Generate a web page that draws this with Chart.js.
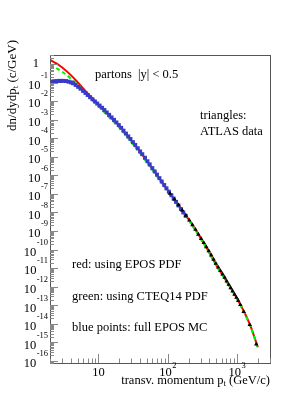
<!DOCTYPE html>
<html>
<head>
<meta charset="utf-8">
<script src="https://cdn.jsdelivr.net/npm/chart.js@4/dist/chart.umd.min.js"></script>
<style>
  html, body { margin: 0; padding: 0; background: #fff; }
  canvas { display: block; }
</style>
</head>
<body>
<canvas id="spectrumChart" width="289" height="410"></canvas>
<script>
// pt values (GeV/c) and log10 of dn/dydpt
const ptCurve = [2, 2.5, 3, 4, 5, 7, 10, 15, 20, 30, 40, 50, 70, 100, 150, 200, 300, 400, 500, 700, 1000, 1300, 1600, 2000];
const redLog = [0.22, 0.02, -0.19, -0.6, -0.98, -1.58, -2.18, -2.87, -3.33, -4.14, -4.74, -5.22, -5.98, -6.79, -7.71, -8.36, -9.38, -10.16, -10.82, -11.68, -12.63, -13.43, -14.2, -15.26];
const greenLog = [-0.05, -0.24, -0.42, -0.78, -1.12, -1.70, -2.28, -2.95, -3.42, -4.22, -4.82, -5.29, -6.05, -6.86, -7.77, -8.41, -9.42, -10.2, -10.85, -11.7, -12.65, -13.45, -14.22, -15.3];

const ptBlue = [2.1, 2.3, 2.5, 2.7, 2.9, 3.1, 3.4, 3.7, 4.0, 4.3, 4.7, 5.1, 5.5, 6.0, 6.5, 7.0, 7.6, 8.2, 8.9, 9.6,
  10.4, 11.3, 12.2, 13.2, 14.3, 15.5, 16.8, 18.2, 19.7, 21.3, 23, 25, 27, 29, 31.5, 34, 37, 40, 43, 47,
  51, 55, 60, 65, 70, 76, 82, 89, 96, 104, 113, 122, 132, 143, 155, 168, 182];
const blueLog = [-0.95, -0.93, -0.92, -0.91, -0.91, -0.91, -0.92, -0.95, -0.99, -1.04, -1.13, -1.23, -1.33, -1.45, -1.56, -1.67, -1.79, -1.9, -2.02, -2.13,
  -2.24, -2.36, -2.48, -2.61, -2.74, -2.88, -3.01, -3.15, -3.29, -3.44, -3.59, -3.75, -3.9, -4.04, -4.21, -4.36, -4.54, -4.71, -4.86, -5.05,
  -5.24, -5.41, -5.61, -5.79, -5.96, -6.15, -6.33, -6.52, -6.7, -6.88, -7.07, -7.25, -7.43, -7.62, -7.81, -8.0, -8.18];

const ptAtlas = [108, 125, 143, 162, 183, 205, 228, 252, 277, 304, 332, 361, 392, 425, 460, 497, 536, 577, 620, 665,
  712, 761, 812, 866, 923, 982, 1044, 1120, 1250, 1530, 1900];
const atlasLog = [-6.98, -7.29, -7.6, -7.88, -8.16, -8.42, -8.67, -8.92, -9.18, -9.41, -9.63, -9.85, -10.07, -10.3, -10.53, -10.75, -10.95, -11.14, -11.32, -11.5,
  -11.7, -11.88, -12.06, -12.24, -12.41, -12.58, -12.75, -12.97, -13.35, -14.05, -15.1];

// axis labels (powers of ten)
const yLabelExps = [0, -1, -2, -3, -4, -5, -6, -7, -8, -9, -10, -11, -12, -13, -14, -15, -16];
const xLabelExps = [1, 2, 3];

const toPoints = (xs, logs) => xs.map((x, i) => ({ x: x, y: Math.pow(10, logs[i]) }));

const serif = '"Liberation Serif", "DejaVu Serif", serif';

function drawSubText(ctx, parts, x, y, size) {
    // parts: [text, isSub]
    let cx = x;
    parts.forEach(p => {
        ctx.font = (p[1] ? size * 0.7 : size) + 'px ' + serif;
        ctx.fillText(p[0], cx, p[1] ? y + 3 : y);
        cx += ctx.measureText(p[0]).width;
    });
    return cx;
}
function subWidth(ctx, parts, size) {
    let w = 0;
    parts.forEach(p => {
        ctx.font = (p[1] ? size * 0.7 : size) + 'px ' + serif;
        w += ctx.measureText(p[0]).width;
    });
    return w;
}

const rootFrame = {
    id: 'rootFrame',
    afterDraw(chart) {
        const { ctx, chartArea: a, scales: { x, y } } = chart;
        ctx.save();
        ctx.strokeStyle = '#555';
        ctx.lineWidth = 1;
        ctx.strokeRect(a.left + 0.5, a.top + 0.5, a.right - a.left, a.bottom - a.top);

        // y ticks
        ctx.strokeStyle = '#888';
        ctx.beginPath();
        for (let e = -17; e <= 0; e++) {
            for (let m = 1; m < 10; m++) {
                const v = m * Math.pow(10, e);
                if (v < y.min || v > y.max) continue;
                const py = Math.round(y.getPixelForValue(v)) + 0.5;
                const len = m === 1 ? 8 : 4;
                ctx.moveTo(a.left, py);
                ctx.lineTo(a.left + len, py);
            }
        }
        // x ticks
        for (let e = 0; e <= 3; e++) {
            for (let m = 1; m < 10; m++) {
                const v = m * Math.pow(10, e);
                if (v < x.min || v > x.max) continue;
                const px = Math.round(x.getPixelForValue(v)) + 0.5;
                const len = m === 1 ? 9 : 4.5;
                ctx.moveTo(px, a.bottom);
                ctx.lineTo(px, a.bottom - len);
            }
        }
        ctx.stroke();

        ctx.fillStyle = '#000';
        ctx.textBaseline = 'middle';

        // y labels
        yLabelExps.forEach(e => {
            const py = y.getPixelForValue(Math.pow(10, e));
            if (e === 0) {
                ctx.font = '12.5px ' + serif;
                ctx.textAlign = 'right';
                ctx.fillText('1', 39, py);
                return;
            }
            ctx.font = '8.5px ' + serif;
            ctx.textAlign = 'right';
            const ex = String(e);
            const ew = ctx.measureText(ex).width;
            ctx.fillText(ex, 48, py - 7);
            ctx.font = '12.5px ' + serif;
            ctx.fillText('10', 48 - ew - 0.5, py + 3);
        });

        // x labels
        xLabelExps.forEach(e => {
            const px = x.getPixelForValue(Math.pow(10, e));
            ctx.font = '12.5px ' + serif;
            const w1 = ctx.measureText('10').width;
            if (e === 1) {
                ctx.textAlign = 'center';
                ctx.fillText('10', px, 373);
                return;
            }
            ctx.font = '8.5px ' + serif;
            const ex = String(e);
            const w2 = ctx.measureText(ex).width;
            const start = px - (w1 + w2) / 2;
            ctx.textAlign = 'left';
            ctx.fillText(ex, start + w1 + 0.5, 366);
            ctx.font = '12.5px ' + serif;
            ctx.fillText('10', start, 373);
        });

        // axis titles
        ctx.textAlign = 'left';
        const xTitle = [['transv. momentum p', false], ['t', true], [' (GeV/c)', false]];
        drawSubText(ctx, xTitle, a.right - subWidth(ctx, xTitle, 12.5), 381, 12.5);

        const yTitle = [['dn/dydp', false], ['t', true], [' (c/GeV)', false]];
        ctx.save();
        ctx.translate(13, 40);
        ctx.rotate(-Math.PI / 2);
        drawSubText(ctx, yTitle, -subWidth(ctx, yTitle, 13), 0, 13);
        ctx.restore();

        // annotations
        ctx.font = '12.5px ' + serif;
        ctx.fillText('partons  |y| < 0.5', 95, 75);
        ctx.fillText('triangles:', 200, 116);
        ctx.fillText('ATLAS data', 200, 132);
        ctx.fillText('red: using EPOS PDF', 72, 265);
        ctx.fillText('green: using CTEQ14 PDF', 72, 297);
        ctx.fillText('blue points: full EPOS MC', 72, 328);
        ctx.restore();
    }
};

const ctx = document.getElementById('spectrumChart').getContext('2d');
new Chart(ctx, {
    type: 'scatter',
    data: {
        datasets: [
            {
                label: 'EPOS PDF',
                data: toPoints(ptCurve, redLog),
                showLine: true,
                borderColor: '#ff0000',
                borderWidth: 2,
                pointRadius: 0,
                cubicInterpolationMode: 'monotone',
                order: 4
            },
            {
                label: 'CTEQ14 PDF',
                data: toPoints(ptCurve, greenLog),
                showLine: true,
                borderColor: '#00ee00',
                borderWidth: 2,
                borderDash: [4, 3],
                pointRadius: 0,
                cubicInterpolationMode: 'monotone',
                order: 3
            },
            {
                label: 'full EPOS MC',
                data: toPoints(ptBlue, blueLog),
                pointStyle: 'rect',
                pointRadius: 2.8,
                backgroundColor: '#3a3ac8',
                borderColor: '#3a3ac8',
                borderWidth: 0,
                order: 2
            },
            {
                label: 'ATLAS data',
                data: toPoints(ptAtlas, atlasLog),
                pointStyle: 'triangle',
                pointRadius: 2.6,
                backgroundColor: '#000',
                borderColor: '#000',
                borderWidth: 0,
                order: 1
            }
        ]
    },
    options: {
        responsive: false,
        animation: false,
        layout: { padding: { left: 50, right: 19, top: 55, bottom: 47 } },
        plugins: { legend: { display: false }, tooltip: { enabled: false } },
        scales: {
            x: { type: 'logarithmic', min: 2, max: 3000, display: false },
            y: { type: 'logarithmic', min: 7.8e-17, max: 3.05, display: false }
        }
    },
    plugins: [rootFrame]
});
</script>
</body>
</html>
